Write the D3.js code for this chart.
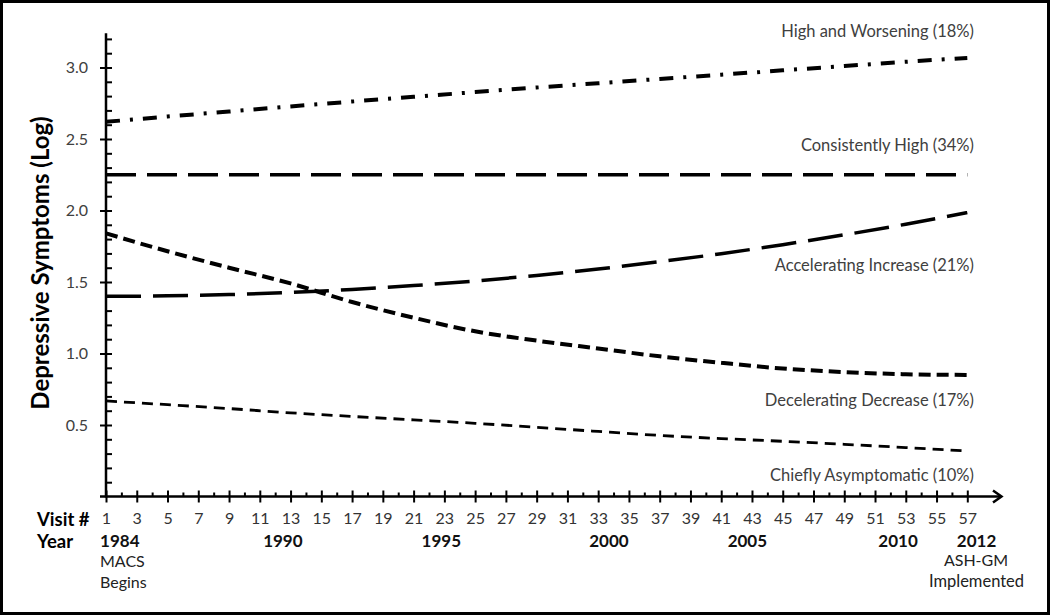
<!DOCTYPE html>
<html>
<head>
<meta charset="utf-8">
<script src="https://cdn.jsdelivr.net/npm/d3@7"></script>
<style>
  html, body { margin: 0; padding: 0; background: #fff; }
  svg { display: block; }
  text { font-family: Lato, "Open Sans", sans-serif; }
</style>
</head>
<body>
<svg id="chart" width="1050" height="615"></svg>
<script>
// ---- Data ----
const visits = [1, 5, 9, 13, 17, 21, 25, 29, 33, 37, 41, 45, 49, 53, 57];
const highWorsening   = [2.62, 2.657, 2.692, 2.728, 2.762, 2.795, 2.828, 2.86, 2.89, 2.92, 2.95, 2.98, 3.01, 3.04, 3.067];
const consistentHigh  = [2.25, 2.25, 2.25, 2.25, 2.25, 2.25, 2.25, 2.25, 2.25, 2.25, 2.25, 2.25, 2.25, 2.25, 2.25];
const accelIncrease   = [1.40, 1.403, 1.412, 1.427, 1.448, 1.475, 1.507, 1.546, 1.591, 1.642, 1.698, 1.761, 1.83, 1.904, 1.985];
const decelDecrease   = [1.84, 1.715, 1.60, 1.49, 1.36, 1.25, 1.155, 1.09, 1.035, 0.98, 0.935, 0.895, 0.87, 0.855, 0.85];
const chieflyAsympt   = [0.668, 0.642, 0.615, 0.585, 0.56, 0.536, 0.512, 0.484, 0.455, 0.427, 0.405, 0.386, 0.365, 0.342, 0.318];

const seriesNames = ["High and Worsening (18%)", "Consistently High (34%)", "Accelerating Increase (21%)",
                     "Decelerating Decrease (17%)", "Chiefly Asymptomatic (10%)"];
const seriesValues = [highWorsening, consistentHigh, accelIncrease, decelDecrease, chieflyAsympt];

const yTickValues = [0.5, 1.0, 1.5, 2.0, 2.5, 3.0];
const visitTickValues = d3.range(1, 58, 2);       // 1,3,...,57 labelled
const visitMinorValues = d3.range(2, 57, 2);      // even visits
const yearLabels = ["1984", "1990", "1995", "2000", "2005", "2010", "2012"];
const yearVisits = [1.9, 12.5, 22.8, 33.7, 42.7, 52.5, 57.6];

// ---- Styles ----
const seriesStyle = [
  { dash: "14,10,3,10", width: 4,   labelY: 31.7 },
  { dash: "30,11",      width: 3.5, labelY: 145 },
  { dash: "35,12",      width: 3.5, labelY: 265 },
  { dash: "12,6",       width: 4,   labelY: 400.7 },
  { dash: "11,7",       width: 2.8, labelY: 475 }
];

const svg = d3.select("#chart");

// frame
svg.append("rect").attr("x", 1.5).attr("y", 1.5).attr("width", 1047).attr("height", 612)
  .attr("fill", "#fff").attr("stroke", "#000").attr("stroke-width", 3);

const x = d3.scaleLinear().domain([1, 57]).range([106, 967.3]);
const y = d3.scaleLinear().domain([0, 3]).range([496.5, 67.5]);

// ---- Y axis ----
const yAxisG = svg.append("g").attr("transform", `translate(${x(1)},0)`);
yAxisG.append("line").attr("x1", 0).attr("x2", 0).attr("y1", y(0) + 1).attr("y2", y(3.24))
  .attr("stroke", "#000").attr("stroke-width", 2.5);
// minor ticks every 0.1
const yMinor = d3.range(1, 33).map(d => d / 10).filter(d => Math.round(d * 10) % 5 !== 0);
const yMinorAxis = d3.axisRight(y).tickValues(yMinor).tickSize(6).tickFormat("");
yAxisG.append("g").call(yMinorAxis).call(g => g.select(".domain").remove())
  .selectAll("line").attr("stroke", "#000").attr("stroke-width", 2);
// major ticks with labels
const yAxis = d3.axisLeft(y).tickValues(yTickValues).tickSize(6).tickPadding(12).tickFormat(d3.format(".1f"));
yAxisG.append("g").call(yAxis).call(g => g.select(".domain").remove())
  .call(g => g.selectAll("line").attr("x1", 6).attr("x2", -6).attr("stroke", "#000").attr("stroke-width", 2))
  .call(g => g.selectAll("text").attr("fill", "#404040").style("font-size", "16px")
    .style("font-family", "Lato, 'Open Sans', sans-serif"));

// ---- X axis ----
const xAxisG = svg.append("g").attr("transform", `translate(0,${y(0)})`);
xAxisG.append("line").attr("x1", x(1) - 6).attr("x2", 1001).attr("y1", 0).attr("y2", 0)
  .attr("stroke", "#000").attr("stroke-width", 2.5);
xAxisG.append("path").attr("d", "M993,-6 L1001.5,0 L993,6").attr("fill", "none")
  .attr("stroke", "#000").attr("stroke-width", 2.5);
const xMinorAxis = d3.axisTop(x).tickValues(visitMinorValues).tickSize(4).tickFormat("");
xAxisG.append("g").call(xMinorAxis).call(g => g.select(".domain").remove())
  .selectAll("line").attr("stroke", "#000").attr("stroke-width", 2);
const xAxis = d3.axisBottom(x).tickValues(visitTickValues).tickSize(6).tickPadding(10).tickFormat(d3.format("d"));
xAxisG.append("g").call(xAxis).call(g => g.select(".domain").remove())
  .call(g => g.selectAll("line").attr("y1", -6).attr("y2", 6).attr("stroke", "#000").attr("stroke-width", 2))
  .call(g => g.selectAll("text").attr("fill", "#333").style("font-size", "16px")
    .style("font-family", "Lato, 'Open Sans', sans-serif"));

// Row headers
svg.append("text").attr("x", 37).attr("y", 525.5).text("Visit #")
  .attr("font-weight", "bold").attr("font-size", 18.5).attr("fill", "#000");
svg.append("text").attr("x", 37).attr("y", 547.5).text("Year")
  .attr("font-weight", "bold").attr("font-size", 18.5).attr("fill", "#000");

// Year labels
svg.append("g").selectAll("text").data(yearLabels).join("text")
  .attr("x", (d, i) => x(yearVisits[i])).attr("y", 547)
  .attr("text-anchor", "middle").attr("font-weight", "bold").attr("font-size", 17)
  .attr("fill", "#111").text(d => d);

// Annotations
svg.append("text").attr("x", 100).attr("y", 566.5).attr("font-size", 16).attr("fill", "#222").text("MACS");
svg.append("text").attr("x", 100).attr("y", 588).attr("font-size", 16).attr("fill", "#222").text("Begins");
svg.append("text").attr("x", 976).attr("y", 565.5).attr("text-anchor", "middle").attr("font-size", 16).attr("fill", "#222").text("ASH-GM");
svg.append("text").attr("x", 976.5).attr("y", 587).attr("text-anchor", "middle").attr("font-size", 16.5).attr("fill", "#222").text("Implemented");

// Y axis title
svg.append("text").attr("transform", "translate(49,263) rotate(-90)")
  .attr("text-anchor", "middle").attr("font-weight", "bold").attr("font-size", 24)
  .attr("fill", "#000").text("Depressive Symptoms (Log)");

// ---- Lines ----
const line = d3.line().x(d => x(d[0])).y(d => y(d[1])).curve(d3.curveMonotoneX);
svg.append("g").selectAll("path").data(seriesValues).join("path")
  .attr("d", vals => line(visits.map((v, i) => [v, vals[i]])))
  .attr("fill", "none").attr("stroke", "#000")
  .attr("stroke-width", (d, i) => seriesStyle[i].width)
  .attr("stroke-dasharray", (d, i) => seriesStyle[i].dash);

// Series labels
svg.append("g").selectAll("text").data(seriesNames).join("text")
  .attr("x", 974).attr("y", (d, i) => seriesStyle[i].labelY + 5.5)
  .attr("text-anchor", "end").attr("font-size", 16.5).attr("fill", "#404040").text(d => d);
</script>
</body>
</html>
